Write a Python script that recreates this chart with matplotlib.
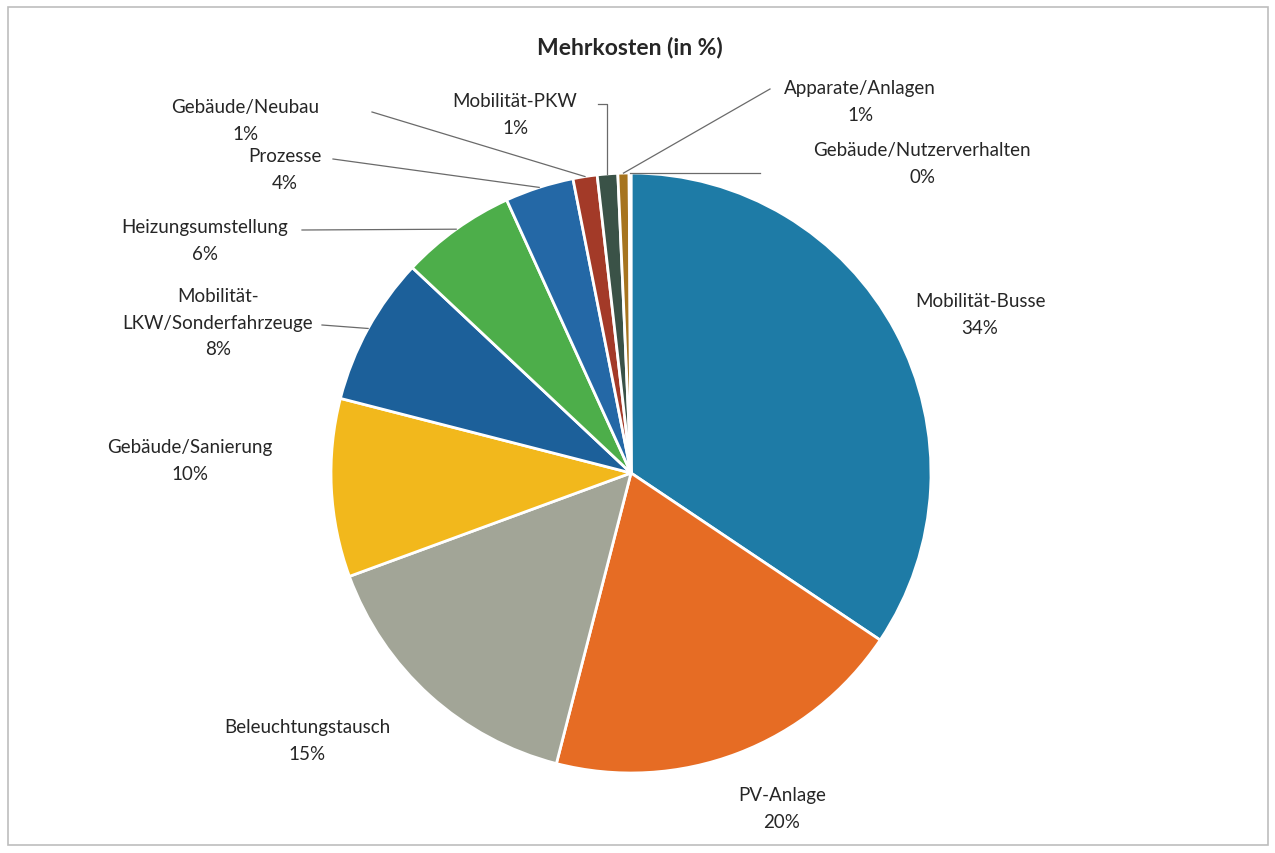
import matplotlib
matplotlib.use("Agg")
import matplotlib.pyplot as plt
import numpy as np
from matplotlib.patches import Rectangle

categories = ["Mobilität-Busse", "PV-Anlage", "Beleuchtungstausch", "Gebäude/Sanierung",
              "Mobilität-\nLKW/Sonderfahrzeuge", "Heizungsumstellung", "Prozesse",
              "Gebäude/Neubau", "Mobilität-PKW", "Apparate/Anlagen", "Gebäude/Nutzerverhalten"]
values = [34.4, 19.6, 15.4, 9.6, 8.0, 6.2, 3.7, 1.3, 1.1, 0.6, 0.1]
pct_labels = ["34%", "20%", "15%", "10%", "8%", "6%", "4%", "1%", "1%", "1%", "0%"]
colors = ["#1E7BA6", "#E66C24", "#A2A597", "#F2B81C", "#1C609A", "#4DAE4A",
          "#2468A6", "#A33A28", "#3A5247", "#A6741F", "#264478"]
title = "Mehrkosten (in %)"

W, H = 1275, 854
fig = plt.figure(figsize=(W / 100, H / 100), dpi=100)
ax = fig.add_axes([0, 0, 1, 1])

cx, cy, R = 631, H - 474, 300
wedges, _ = ax.pie(values, colors=colors, startangle=90, counterclock=False,
                   center=(cx, cy), radius=R, frame=True,
                   wedgeprops=dict(edgecolor="white", linewidth=2.0))
ax.set_xlim(0, W)
ax.set_ylim(0, H)
ax.axis("off")

font = "Lato"
fs = 13.5
line_col = "#6a6a6a"

def Y(y):
    return H - y

# label text positions (pixel coords, y from top) and leader line anchors
label_pos = [
    (980, 315, None),
    (782, 809, None),
    (307, 741, None),
    (190, 461, None),
    (218, 323, (322, 326)),
    (205, 241, (302, 231)),
    (285, 170, (333, 160)),
    (245, 121, (372, 113)),
    (515, 115, (598, 105)),
    (860, 102, (770, 90)),
    (922, 164, (760, 170)),
]

for w, cat, pct, (lx, ly, anchor) in zip(wedges, categories, pct_labels, label_pos):
    ax.text(lx, Y(ly), cat + "\n" + pct, ha="center", va="center", fontsize=fs,
            family=font, color="#262626", linespacing=1.7)
    if anchor is not None:
        ang = np.deg2rad((w.theta1 + w.theta2) / 2)
        ex, ey = cx + R * np.cos(ang), cy + R * np.sin(ang)
        ax_, ay_ = anchor
        if cat == "Mobilität-PKW":
            ax.plot([ax_, ex, ex], [Y(ay_), Y(ay_), ey], color=line_col, lw=0.9)
        elif cat == "Gebäude/Nutzerverhalten":
            ax.plot([ax_, ex], [ey, ey], color=line_col, lw=0.9)
        else:
            ax.plot([ax_, ex], [Y(ay_), ey], color=line_col, lw=0.9)

ax.text(630, Y(47), title, ha="center", va="center", fontsize=16.5,
        family=font, fontweight="bold", color="#262626")

ax.add_patch(Rectangle((8, Y(846)), 1260, 838, fill=False, edgecolor="#bdbdbd", lw=1.2))

fig.savefig("out.png", dpi=100)
